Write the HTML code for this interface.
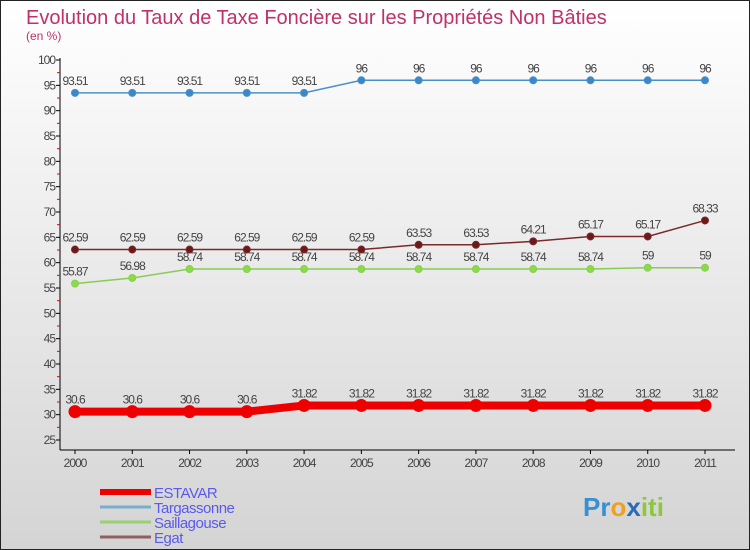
<!DOCTYPE html>
<html><head><meta charset="utf-8"><style>
body{margin:0;width:750px;height:550px;overflow:hidden;font-family:"Liberation Sans",sans-serif}
svg{display:block}
</style></head><body>
<svg id="c" width="750" height="550" xmlns="http://www.w3.org/2000/svg">
<defs><linearGradient id="bg" x1="0" y1="0" x2="0" y2="1"><stop offset="0" stop-color="#ffffff"/><stop offset="1" stop-color="#d4d4d4"/></linearGradient></defs>
<rect x="0.5" y="0.5" width="749" height="549" fill="url(#bg)" stroke="#222"/>
<text x="26" y="24" font-size="20" fill="#c0306a">Evolution du Taux de Taxe Foncière sur les Propriétés Non Bâties</text>
<text x="26" y="40" font-size="12" fill="#c0306a">(en %)</text>
<g id="axes"></g><g id="series"></g><g id="legend"></g>
<text x="583" y="516" font-size="26" font-weight="bold" fill="#3a8fd0">Pr<tspan fill="#f0a020">o</tspan><tspan fill="#2a6ab8">x</tspan><tspan fill="#8cc83c">iti</tspan></text>
</svg>
<script>
const years=["2000","2001","2002","2003","2004","2005","2006","2007","2008","2009","2010","2011"];
const yTicks=[25,30,35,40,45,50,55,60,65,70,75,80,85,90,95,100];
const estavar=[30.6,30.6,30.6,30.6,31.82,31.82,31.82,31.82,31.82,31.82,31.82,31.82];
const targassonne=[93.51,93.51,93.51,93.51,93.51,96,96,96,96,96,96,96];
const saillagouse=[55.87,56.98,58.74,58.74,58.74,58.74,58.74,58.74,58.74,58.74,59,59];
const egat=[62.59,62.59,62.59,62.59,62.59,62.59,63.53,63.53,64.21,65.17,65.17,68.33];
const NS="http://www.w3.org/2000/svg";
function X(i){return 75+i*(630/11);}
function Y(v){return 440-(v-25)*(380/75);}
function el(t,a,p){const e=document.createElementNS(NS,t);for(const k in a)e.setAttribute(k,a[k]);p.appendChild(e);return e;}
const ax=document.getElementById('axes');
let l=el('line',{x1:60,y1:58,x2:60,y2:450,stroke:'#000'},ax);


l=el('line',{x1:60,y1:450,x2:735,y2:450,stroke:'#000'},ax);


yTicks.forEach(v=>{
 el('line',{x1:56,y1:Y(v),x2:60,y2:Y(v),stroke:'#000'},ax);
 if(v<100) el('line',{x1:57,y1:Y(v+2.5),x2:60,y2:Y(v+2.5),stroke:'#e00'},ax);
 const t=el('text',{x:55,y:Y(v)+4,'font-size':12,'text-anchor':'end',fill:'#444','letter-spacing':'-1'},ax);
 t.textContent=v;
 
 
});
years.forEach((y,i)=>{
 el('line',{x1:X(i),y1:450,x2:X(i),y2:454,stroke:'#000'},ax);
 const t=el('text',{x:X(i),y:467,'font-size':12,'text-anchor':'middle',fill:'#444','letter-spacing':'-1'},ax);
 t.textContent=y;
 
 
});
const sg=document.getElementById('series');
function series(vals,color,dot,w,r,name){
 const g=el('g',{},sg);
 
 
 el('polyline',{points:vals.map((v,i)=>X(i)+','+Y(v)).join(' '),fill:'none',stroke:color,'stroke-width':w},g);
 vals.forEach((v,i)=>{
  const c=el('circle',{cx:X(i),cy:Y(v),r:r,fill:dot,stroke:color,'stroke-width':1},g);
  
  
  const t=el('text',{x:X(i),y:Y(v)-8,'font-size':12,'text-anchor':'middle',fill:'#444','letter-spacing':'-1'},g);
  t.textContent=v;
  
  
 });
}
series(egat,'#7a2a2a','#6a1a1a',1.5,3.5,'egat');
series(saillagouse,'#88cc55','#88dd44',1.5,3.5,'saillagouse');
series(targassonne,'#4a90c8','#3a88c8',1.5,3.5,'targassonne');
series(estavar,'#ee0000','#ee0000',8,6,'estavar');
const lg=document.getElementById('legend');
const lnames=["ESTAVAR","Targassonne","Saillagouse","Egat"];
const lcols=["#ee0000","#7aaed0","#99d070","#906060"];
const lw=[6,3,3,3];
lnames.forEach((n,i)=>{
 const y=492+i*15;
 const g=el('g',{},lg);
 
 
 el('line',{x1:100,y1:y,x2:151,y2:y,stroke:lcols[i],'stroke-width':lw[i]},g);
 const t=el('text',{x:154,y:y+6,'font-size':15,fill:'#5a5aee','letter-spacing':'-0.5'},g);
 t.textContent=n;
});
</script>
</body></html>
